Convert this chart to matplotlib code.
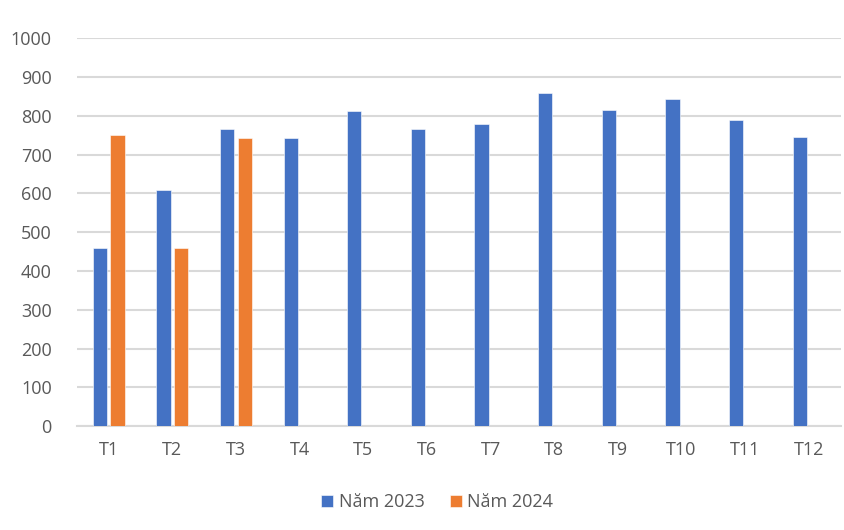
import numpy as np
import matplotlib.pyplot as plt

plt.rcParams['font.family'] = ['Open Sans', 'DejaVu Sans']
plt.rcParams['font.size'] = 13

thang = ['T1', 'T2', 'T3', 'T4', 'T5', 'T6', 'T7', 'T8', 'T9', 'T10', 'T11', 'T12']
nam_2023 = [458, 609, 767, 742, 811, 767, 780, 858, 814, 842, 789, 745]
nam_2024 = [751, 458, 742]

mau_2023 = '#4472C4'
mau_2024 = '#ED7D31'
mau_chu = '#595959'

fig = plt.figure(figsize=(8.44, 5.30), dpi=100)
ax = fig.add_axes([0.091, 0.196, 0.905, 0.732])

x = np.arange(len(thang))
w = 0.225
ax.bar(x - 0.14, nam_2023, width=w, color=mau_2023, edgecolor='white', linewidth=0.4,
       label='Năm 2023', zorder=3)
ax.bar(x[:len(nam_2024)] + 0.14, nam_2024, width=w, color=mau_2024, edgecolor='white',
       linewidth=0.4, label='Năm 2024', zorder=3)

ax.set_ylim(0, 1000)
ax.set_yticks(range(0, 1001, 100))
ax.set_xlim(-0.5, len(thang) - 0.5)
ax.set_xticks(x)
ax.set_xticklabels(thang)
ax.grid(axis='y', color='#D9D9D9', linewidth=1.5, zorder=0)
for s in ['top', 'right', 'left']:
    ax.spines[s].set_visible(False)
ax.spines['bottom'].set_color('#D9D9D9')
ax.spines['bottom'].set_linewidth(1.5)
ax.tick_params(axis='both', length=0, colors=mau_chu, labelsize=13)
ax.tick_params(axis='x', pad=11)
ax.tick_params(axis='y', pad=18)

fig.legend(loc='center', bbox_to_anchor=(0.518, 0.053), ncol=2, frameon=False,
           handlelength=0.65, handleheight=0.65, handletextpad=0.3, columnspacing=1.4,
           labelcolor=mau_chu, fontsize=13)

fig.savefig('out.png', dpi=100)
